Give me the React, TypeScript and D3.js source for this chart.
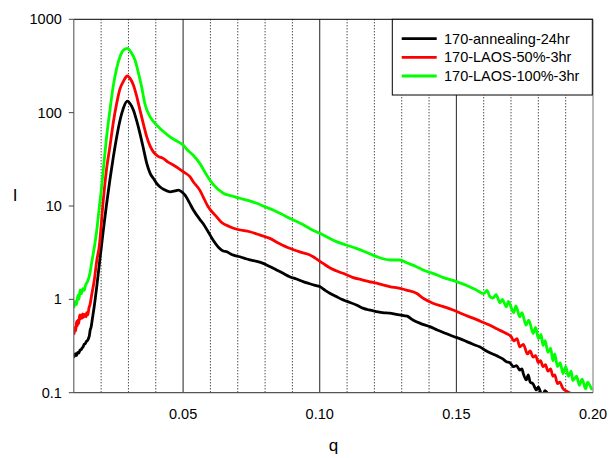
import React from "react";
import * as d3 from "d3";

const seriesNames = ["170-annealing-24hr", "170-LAOS-50%-3hr", "170-LAOS-100%-3hr"];
const seriesColors = ["#000000", "#ff0000", "#00ff00"];

const blackQ = [0.0101,0.0106,0.011,0.0114,0.0118,0.0123,0.0127,0.013,0.0134,0.0138,0.0142,0.0145,0.0149,0.0152,0.0155,0.0157,0.016,0.0163,0.0168,0.0175,0.0184,0.0195,0.0208,0.022,0.0232,0.0245,0.0257,0.027,0.0281,0.0296,0.0307,0.0318,0.033,0.0342,0.0355,0.0367,0.0379,0.0391,0.0403,0.0415,0.043,0.0452,0.047,0.0482,0.0495,0.0507,0.0522,0.0537,0.0561,0.0573,0.059,0.061,0.063,0.0647,0.0659,0.068,0.0708,0.073,0.0744,0.077,0.0793,0.0817,0.084,0.0866,0.089,0.0915,0.0939,0.096,0.098,0.1,0.102,0.104,0.1061,0.108,0.11,0.1134,0.116,0.118,0.1208,0.123,0.1256,0.128,0.1293,0.132,0.1341,0.137,0.1403,0.143,0.1463,0.149,0.1512,0.154,0.1561,0.1585,0.161,0.1646,0.167,0.1683,0.1695,0.171,0.172,0.1732,0.174,0.1745,0.1756,0.1763,0.177,0.178,0.1793,0.18,0.181,0.1817,0.1824,0.184];
const blackI = [0.243,0.262,0.25,0.27,0.265,0.286,0.29,0.30,0.31,0.33,0.335,0.35,0.36,0.37,0.39,0.41,0.47,0.50,0.62,0.85,1.37,2.6,5.5,10.5,19,34,55,85,111,133,124,107,82,60,41,28.6,22.5,19.8,17.5,16.1,15.0,14.2,14.5,14.8,14.2,13.1,11,9.1,7.2,6.5,5.4,4.3,3.6,3.3,3.24,3.0,2.86,2.72,2.65,2.55,2.43,2.25,2.08,1.90,1.75,1.65,1.55,1.48,1.42,1.37,1.25,1.15,1.07,1.0,0.95,0.87,0.80,0.77,0.74,0.72,0.71,0.69,0.68,0.66,0.60,0.55,0.51,0.47,0.43,0.40,0.38,0.35,0.33,0.31,0.28,0.25,0.23,0.215,0.21,0.19,0.195,0.175,0.18,0.16,0.137,0.155,0.13,0.125,0.107,0.115,0.098,0.094,0.105,0.09];

const redQ = [0.0101,0.0104,0.0107,0.011,0.0113,0.0115,0.0118,0.0121,0.0123,0.0126,0.0128,0.0131,0.0133,0.0136,0.0138,0.0141,0.0143,0.0145,0.0147,0.015,0.0152,0.0156,0.0159,0.0165,0.0175,0.0184,0.0193,0.0208,0.022,0.0232,0.0245,0.0257,0.0269,0.0281,0.0296,0.0307,0.0318,0.033,0.0342,0.0355,0.0367,0.0379,0.0391,0.0409,0.0427,0.0445,0.0464,0.0482,0.05,0.0525,0.0537,0.0561,0.0573,0.059,0.0622,0.064,0.0671,0.07,0.0744,0.078,0.0817,0.085,0.089,0.093,0.0964,0.0985,0.1012,0.104,0.1085,0.112,0.1158,0.118,0.1208,0.1256,0.1293,0.132,0.1354,0.138,0.1414,0.145,0.1488,0.152,0.1561,0.159,0.1621,0.165,0.1683,0.17,0.171,0.1722,0.1732,0.1745,0.176,0.177,0.1781,0.179,0.18,0.1808,0.1817,0.1826,0.1835,0.1845,0.1853,0.186,0.187,0.1878,0.189,0.19,0.1914,0.193];
const redI = [0.43,0.50,0.46,0.58,0.52,0.60,0.55,0.66,0.68,0.62,0.68,0.63,0.70,0.64,0.69,0.66,0.69,0.65,0.72,0.68,0.70,0.82,0.87,1.1,1.61,2.6,3.66,11.6,25,43,80,126,180,215,247,230,198,150,107,75,55,44,38,34,32.4,29.5,27.5,25.5,23.3,20.6,18.2,14.8,12.6,10,7.7,6.7,6.0,5.6,5.3,4.9,4.5,4.0,3.52,3.2,2.99,2.75,2.43,2.15,1.90,1.72,1.61,1.55,1.49,1.37,1.31,1.25,1.16,1.02,0.91,0.84,0.77,0.70,0.63,0.58,0.53,0.48,0.43,0.40,0.36,0.38,0.31,0.33,0.26,0.28,0.24,0.25,0.21,0.22,0.19,0.20,0.17,0.18,0.15,0.155,0.125,0.13,0.111,0.105,0.10,0.095];

const greenQ = [0.0101,0.0105,0.011,0.0115,0.0119,0.0123,0.0128,0.0133,0.0138,0.0143,0.0147,0.0152,0.0159,0.0165,0.0175,0.0184,0.0193,0.0202,0.0211,0.022,0.0232,0.0244,0.0257,0.0269,0.0281,0.0296,0.031,0.0324,0.0336,0.0348,0.036,0.0379,0.0395,0.0409,0.043,0.0452,0.0475,0.05,0.0515,0.0537,0.0561,0.0586,0.061,0.0647,0.068,0.0708,0.074,0.0769,0.08,0.0829,0.086,0.089,0.0925,0.0952,0.0975,0.1,0.103,0.1061,0.11,0.1134,0.117,0.1208,0.1256,0.1293,0.132,0.1354,0.138,0.1414,0.145,0.15,0.154,0.1573,0.16,0.1612,0.1622,0.1634,0.1645,0.166,0.1668,0.1683,0.169,0.171,0.1718,0.1732,0.174,0.1755,0.1765,0.1781,0.179,0.18,0.181,0.1817,0.1825,0.1835,0.1845,0.1853,0.186,0.187,0.188,0.189,0.19,0.191,0.192,0.1926,0.194,0.195,0.196,0.1973,0.198,0.1994];
const greenI = [0.83,0.95,0.88,1.10,1.0,1.26,1.15,1.3,1.25,1.42,1.49,1.6,1.9,2.43,3.6,5.5,9.5,16.1,30,55,105,190,300,398,465,489,440,366,270,190,125,90.6,78,70.8,62,55,50,45,40,35,28.6,21.5,17,13.7,12.8,12.1,11.4,10.7,9.8,9.06,8.2,7.38,6.6,6.0,5.5,5.1,4.6,4.15,3.8,3.52,3.2,2.87,2.64,2.64,2.45,2.24,2.05,1.90,1.72,1.55,1.40,1.26,1.15,1.25,1.08,1.03,1.12,0.92,1.0,0.83,0.95,0.72,0.85,0.65,0.72,0.53,0.6,0.43,0.5,0.38,0.42,0.32,0.36,0.27,0.3,0.22,0.26,0.19,0.21,0.16,0.19,0.15,0.17,0.135,0.15,0.12,0.14,0.11,0.13,0.11];

const xTickValues = [0.05, 0.1, 0.15, 0.2];
const xTickLabels = ["0.05", "0.10", "0.15", "0.20"];
const yTickValues = [0.1, 1, 10, 100, 1000];
const yTickLabels = ["0.1", "1", "10", "100", "1000"];
const minorGrid = [0.02, 0.03, 0.04, 0.06, 0.07, 0.08, 0.09, 0.11, 0.12, 0.13, 0.14, 0.16, 0.17, 0.18, 0.19];
const majorGrid = [0.05, 0.1, 0.15];

const FONT = "'Liberation Sans', Arial, sans-serif";

export default function App() {
  const left = 73.8, right = 593, top = 19.3, bottom = 392.7;
  const x = d3.scaleLinear().domain([0.01, 0.2]).range([left, right]);
  const y = d3.scaleLog().domain([0.1, 1000]).range([bottom, top]);
  const line = d3
    .line<[number, number]>()
    .x(d => x(d[0]))
    .y(d => y(Math.max(d[1], 0.03)))
    .curve(d3.curveMonotoneX);
  const series = [
    blackQ.map((q, i) => [q, blackI[i]] as [number, number]),
    redQ.map((q, i) => [q, redI[i]] as [number, number]),
    greenQ.map((q, i) => [q, greenI[i]] as [number, number]),
  ];
  const legX = 392.3, legY = 19.3, legW = 200, legH = 75.7;
  return (
    <svg width={616} height={458} style={{ position: "absolute", left: 0, top: 0, background: "#fff" }}>
      <defs>
        <clipPath id="plotclip">
          <rect x={left} y={top} width={right - left} height={bottom - top} />
        </clipPath>
      </defs>
      {minorGrid.map(v => (
        <line key={"m" + v} x1={x(v)} x2={x(v)} y1={top} y2={bottom} stroke="#000" strokeWidth={1} strokeDasharray="1,2" />
      ))}
      {majorGrid.map(v => (
        <line key={"M" + v} x1={x(v)} x2={x(v)} y1={top} y2={bottom} stroke="#222" strokeWidth={1} />
      ))}
      <g clipPath="url(#plotclip)">
        {series.map((s, i) => (
          <path key={i} d={line(s) || ""} fill="none" stroke={seriesColors[i]} strokeWidth={2.8} strokeLinejoin="round" strokeLinecap="round" />
        ))}
      </g>
      <line x1={left} x2={right} y1={top} y2={top} stroke="#000" strokeWidth={1} />
      <line x1={right} x2={right} y1={top} y2={bottom} stroke="#777" strokeWidth={1} />
      <line x1={left} x2={left} y1={top} y2={bottom} stroke="#666" strokeWidth={1.2} />
      <line x1={left} x2={right} y1={bottom} y2={bottom} stroke="#555" strokeWidth={1.2} />
      {yTickValues.map((v, i) => (
        <g key={"y" + v}>
          <line x1={left - 5} x2={left} y1={y(v)} y2={y(v)} stroke="#444" strokeWidth={1} />
          <text x={left - 12} y={y(v) + 5} textAnchor="end" fontFamily={FONT} fontSize={14.5} fill="#000">{yTickLabels[i]}</text>
        </g>
      ))}
      {xTickValues.map((v, i) => (
        <text key={"x" + v} x={x(v)} y={419} textAnchor="middle" fontFamily={FONT} fontSize={14.5} fill="#000">{xTickLabels[i]}</text>
      ))}
      <text x={333.5} y={451} textAnchor="middle" fontFamily={FONT} fontSize={17} fill="#000">q</text>
      <text x={15} y={201} textAnchor="middle" fontFamily={FONT} fontSize={17} fill="#000">I</text>
      <rect x={legX} y={legY} width={legW} height={legH} fill="#fff" stroke="#000" strokeWidth={1} />
      {seriesNames.map((n, i) => (
        <g key={n}>
          <line x1={401.7} x2={436.7} y1={38.7 + i * 18.65} y2={38.7 + i * 18.65} stroke={seriesColors[i]} strokeWidth={2.8} />
          <text x={444} y={38.7 + i * 18.65 + 5} fontFamily={FONT} fontSize={14.5} fill="#000">{n}</text>
        </g>
      ))}
    </svg>
  );
}
